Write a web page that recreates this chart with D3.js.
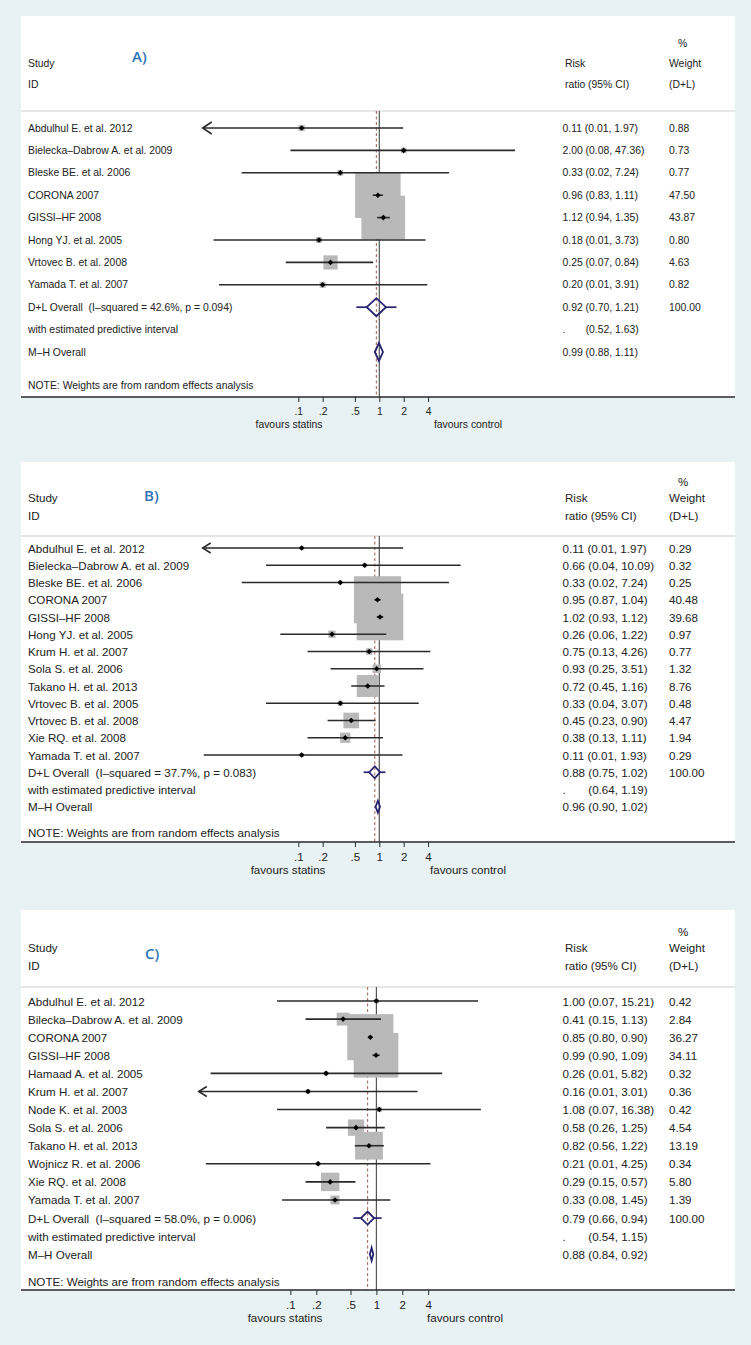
<!DOCTYPE html>
<html><head><meta charset="utf-8">
<script src="https://cdn.jsdelivr.net/npm/d3@7"></script>
<style>
html,body{margin:0;padding:0;background:#e8f2f4;}
svg{display:block;}
text{font-family:"Liberation Sans",Arial,Helvetica,sans-serif;fill:#222;white-space:pre;}
</style></head><body>
<svg id="chart" width="751" height="1345"></svg>
<script>
// ---------- DATA ----------
const tickValues = [0.1, 0.2, 0.5, 1, 2, 4];
const tickLabels = [".1", ".2", ".5", "1", "2", "4"];

const studiesA = ["Abdulhul E. et al. 2012","Bielecka–Dabrow A. et al. 2009","Bleske BE. et al. 2006","CORONA 2007","GISSI–HF 2008","Hong YJ. et al. 2005","Vrtovec B. et al. 2008","Yamada T. et al. 2007"];
const rrA = [0.11, 2.00, 0.33, 0.96, 1.12, 0.18, 0.25, 0.20];
const loA = [0.006, 0.08, 0.02, 0.83, 0.94, 0.009, 0.07, 0.0105];
const hiA = [1.97, 47.36, 7.24, 1.11, 1.35, 3.73, 0.84, 3.91];
const weightA = [0.88, 0.73, 0.77, 47.50, 43.87, 0.80, 4.63, 0.82];
const dlA = [0.92, 0.70, 1.21];
const predA = [0.52, 1.63];
const mhA = [0.99, 0.88, 1.11];
const hetA = ["42.6%", "0.094"];

const studiesB = ["Abdulhul E. et al. 2012","Bielecka–Dabrow A. et al. 2009","Bleske BE. et al. 2006","CORONA 2007","GISSI–HF 2008","Hong YJ. et al. 2005","Krum H. et al. 2007","Sola S. et al. 2006","Takano H. et al. 2013","Vrtovec B. et al. 2005","Vrtovec B. et al. 2008","Xie RQ. et al. 2008","Yamada T. et al. 2007"];
const rrB = [0.11, 0.66, 0.33, 0.95, 1.02, 0.26, 0.75, 0.93, 0.72, 0.33, 0.45, 0.38, 0.11];
const loB = [0.006, 0.04, 0.02, 0.87, 0.93, 0.06, 0.13, 0.25, 0.45, 0.04, 0.23, 0.13, 0.0068];
const hiB = [1.97, 10.09, 7.24, 1.04, 1.12, 1.22, 4.26, 3.51, 1.16, 3.07, 0.90, 1.11, 1.93];
const weightB = [0.29, 0.32, 0.25, 40.48, 39.68, 0.97, 0.77, 1.32, 8.76, 0.48, 4.47, 1.94, 0.29];
const dlB = [0.88, 0.75, 1.02];
const predB = [0.64, 1.19];
const mhB = [0.96, 0.90, 1.02];
const hetB = ["37.7%", "0.083"];

const studiesC = ["Abdulhul E. et al. 2012","Bilecka–Dabrow A. et al. 2009","CORONA 2007","GISSI–HF 2008","Hamaad A. et al. 2005","Krum H. et al. 2007","Node K. et al. 2003","Sola S. et al. 2006","Takano H. et al. 2013","Wojnicz R. et al. 2006","Xie RQ. et al. 2008","Yamada T. et al. 2007"];
const rrC = [1.00, 0.41, 0.85, 0.99, 0.26, 0.16, 1.08, 0.58, 0.82, 0.21, 0.29, 0.33];
const loC = [0.07, 0.15, 0.80, 0.90, 0.0118, 0.0075, 0.07, 0.26, 0.56, 0.0104, 0.15, 0.08];
const hiC = [15.21, 1.13, 0.90, 1.09, 5.82, 3.01, 16.38, 1.25, 1.22, 4.25, 0.57, 1.45];
const weightC = [0.42, 2.84, 36.27, 34.11, 0.32, 0.36, 0.42, 4.54, 13.19, 0.34, 5.80, 1.39];
const dlC = [0.79, 0.66, 0.94];
const predC = [0.54, 1.15];
const mhC = [0.88, 0.84, 0.92];
const hetC = ["58.0%", "0.006"];

const panelLabels = ["A)", "B)", "C)"];

// ---------- LAYOUT ----------
const panels = [
  {names: studiesA, rr: rrA, lo: loA, hi: hiA, w: weightA, dl: dlA, pred: predA, mh: mhA, het: hetA, label: panelLabels[0],
   top: 16, axisY: 397, headY: [43, 63, 84], hLine: 111, rowStart: 128, rowStep: 22.4,
   x1: 379.3, ppd: 81, dmin: 0.0066, dmax: 60, boxK: 6.6, fs: 10.4, lab: [132, 56],
   fav: [289, 468, 424], tickY: 411, arrow: [9, 6], dh: 9},
  {names: studiesB, rr: rrB, lo: loB, hi: hiB, w: weightB, dl: dlB, pred: predB, mh: mhB, het: hetB, label: panelLabels[1],
   top: 462, axisY: 842, headY: [481, 497, 515], hLine: 536, rowStart: 548, rowStep: 17.25,
   x1: 379.3, ppd: 81, dmin: 0.0066, dmax: 60, boxK: 7.4, fs: 11.6, lab: [144, 495],
   fav: [288, 468, 869], tickY: 856, arrow: [8, 5], dh: 6},
  {names: studiesC, rr: rrC, lo: loC, hi: hiC, w: weightC, dl: dlC, pred: predC, mh: mhC, het: hetC, label: panelLabels[2],
   top: 910, axisY: 1290, headY: [931, 947, 965], hLine: 987, rowStart: 1001, rowStep: 18.09,
   x1: 376.4, ppd: 86, dmin: 0.0086, dmax: 30, boxK: 7.65, fs: 11.6, lab: [145, 953],
   fav: [285, 465, 1317], tickY: 1304, arrow: [8, 5], dh: 6.5}
];

const NAVY = "#25236e", RED = "#ad6e62", LINE = "#2a2a2a", REF = "#555555", BOX = "#b9b9b9";
const fmt = d3.format(".2f");
const svg = d3.select("#chart");
svg.append("rect").attr("width", 751).attr("height", 1345).attr("fill", "#e8f2f4");

function txt(g, x, y, s, fs, anchor) {
  return g.append("text").attr("x", x).attr("y", y).attr("dominant-baseline", "central")
    .attr("font-size", fs).attr("text-anchor", anchor || "start").text(s);
}

panels.forEach(p => {
  const g = svg.append("g");
  const fs = p.fs;
  g.append("rect").attr("x", 21).attr("y", p.top).attr("width", 714).attr("height", p.axisY - p.top).attr("fill", "#fff");

  const x = d3.scaleLog().domain([p.dmin, p.dmax])
    .range([p.x1 + p.ppd * Math.log10(p.dmin), p.x1 + p.ppd * Math.log10(p.dmax)]);
  const rowY = i => p.rowStart + i * p.rowStep;
  const n = p.names.length;

  // header
  txt(g, 678, p.headY[0], "%", fs);
  txt(g, 28, p.headY[1], "Study", fs);
  txt(g, 565, p.headY[1], "Risk", fs);
  txt(g, 669, p.headY[1], "Weight", fs);
  txt(g, 28, p.headY[2], "ID", fs);
  txt(g, 565, p.headY[2], "ratio (95% CI)", fs);
  txt(g, 669, p.headY[2], "(D+L)", fs);
  g.append("text").attr("x", p.lab[0]).attr("y", p.lab[1]).attr("dominant-baseline", "central")
    .attr("font-size", 15).attr("font-weight", 600)
    .style("font-family", "'Open Sans','Noto Sans',sans-serif").style("fill", "#2e75b6").text(p.label);
  g.append("line").attr("x1", 21).attr("x2", 735).attr("y1", p.hLine).attr("y2", p.hLine)
    .attr("stroke", "#cdcdcd").attr("stroke-width", 1);

  // reference lines
  g.append("line").attr("x1", x(1)).attr("x2", x(1)).attr("y1", p.hLine).attr("y2", p.axisY)
    .attr("stroke", REF).attr("stroke-width", 1.2);
  g.append("line").attr("x1", x(p.dl[0])).attr("x2", x(p.dl[0])).attr("y1", p.hLine).attr("y2", p.axisY)
    .attr("stroke", RED).attr("stroke-width", 1.1).attr("stroke-dasharray", "3,2.5");

  const idx = d3.range(n);
  // weight boxes
  g.selectAll("rect.box").data(idx).join("rect").attr("class", "box")
    .attr("x", i => x(p.rr[i]) - p.boxK * Math.sqrt(p.w[i]) / 2)
    .attr("y", i => rowY(i) - p.boxK * Math.sqrt(p.w[i]) / 2)
    .attr("width", i => p.boxK * Math.sqrt(p.w[i]))
    .attr("height", i => p.boxK * Math.sqrt(p.w[i]))
    .attr("fill", BOX);

  // CI lines
  g.selectAll("line.ci").data(idx).join("line").attr("class", "ci")
    .attr("x1", i => x(Math.max(p.lo[i], p.dmin))).attr("x2", i => x(p.hi[i]))
    .attr("y1", i => rowY(i)).attr("y2", i => rowY(i))
    .attr("stroke", LINE).attr("stroke-width", 1.6);
  // arrows for clipped CIs
  g.selectAll("path.arrow").data(idx.filter(i => p.lo[i] < p.dmin)).join("path").attr("class", "arrow")
    .attr("d", i => {
      const x0 = x(p.dmin), y = rowY(i);
      return `M${x0 + p.arrow[0]},${y - p.arrow[1]}L${x0},${y}L${x0 + p.arrow[0]},${y + p.arrow[1]}`;
    })
    .attr("fill", "none").attr("stroke", LINE).attr("stroke-width", 1.6);
  // point markers
  g.selectAll("path.pt").data(idx).join("path").attr("class", "pt")
    .attr("d", i => { const cx = x(p.rr[i]), y = rowY(i), s = 2.8;
      return `M${cx - s},${y}L${cx},${y - s}L${cx + s},${y}L${cx},${y + s}Z`; })
    .attr("fill", "#000");

  // overall diamonds
  const yDL = rowY(n), yPred = rowY(n + 1), yMH = rowY(n + 2);
  const diamond = (est, lo, hi, y, h) => `M${x(lo)},${y}L${x(est)},${y - h}L${x(hi)},${y}L${x(est)},${y + h}Z`;
  g.append("line").attr("x1", x(p.pred[0])).attr("x2", x(p.dl[1])).attr("y1", yDL).attr("y2", yDL)
    .attr("stroke", NAVY).attr("stroke-width", 1.7);
  g.append("line").attr("x1", x(p.dl[2])).attr("x2", x(p.pred[1])).attr("y1", yDL).attr("y2", yDL)
    .attr("stroke", NAVY).attr("stroke-width", 1.7);
  g.append("path").attr("d", diamond(p.dl[0], p.dl[1], p.dl[2], yDL, p.dh))
    .attr("fill", "none").attr("stroke", NAVY).attr("stroke-width", 1.8);
  g.append("path").attr("d", diamond(p.mh[0], p.mh[1], p.mh[2], yMH, p.dh))
    .attr("fill", "none").attr("stroke", NAVY).attr("stroke-width", 1.8);

  // row texts
  idx.forEach(i => {
    txt(g, 28, rowY(i), p.names[i], fs);
    txt(g, 562.5, rowY(i), `${fmt(p.rr[i])} (${fmt(p.lo[i])}, ${fmt(p.hi[i])})`, fs);
    txt(g, 669, rowY(i), fmt(p.w[i]), fs);
  });
  txt(g, 28, yDL, `D+L Overall  (I–squared = ${p.het[0]}, p = ${p.het[1]})`, fs);
  const dlText = txt(g, 562.5, yDL, `${fmt(p.dl[0])} (${fmt(p.dl[1])}, ${fmt(p.dl[2])})`, fs);
  txt(g, 669, yDL, "100.00", fs);
  txt(g, 28, yPred, "with estimated predictive interval", fs);
  txt(g, 562.5, yPred, ".", fs);
  const rightEdge = 562.5 + dlText.node().getComputedTextLength();
  txt(g, rightEdge, yPred, `(${fmt(p.pred[0])}, ${fmt(p.pred[1])})`, fs, "end");
  txt(g, 28, yMH, "M–H Overall", fs);
  txt(g, 562.5, yMH, `${fmt(p.mh[0])} (${fmt(p.mh[1])}, ${fmt(p.mh[2])})`, fs);
  txt(g, 28, rowY(n + 3.5), "NOTE: Weights are from random effects analysis", fs);

  // axis
  g.append("line").attr("x1", 21).attr("x2", 735).attr("y1", p.axisY).attr("y2", p.axisY)
    .attr("stroke", LINE).attr("stroke-width", 1.5);
  const ax = g.append("g").attr("transform", `translate(0,${p.axisY})`)
    .call(d3.axisBottom(x).tickValues(tickValues).tickFormat((d, i) => tickLabels[i]).tickSize(5));
  ax.select(".domain").remove();
  ax.selectAll(".tick line").attr("stroke", LINE).attr("stroke-width", 1);
  ax.selectAll(".tick text").attr("y", p.tickY - p.axisY).attr("dy", null)
    .attr("dominant-baseline", "central").attr("font-size", fs)
    .attr("font-family", "'Liberation Sans',Arial,sans-serif").attr("fill", "#222");
  txt(g, p.fav[0], p.fav[2], "favours statins", fs, "middle");
  txt(g, p.fav[1], p.fav[2], "favours control", fs, "middle");
});
</script>
</body></html>
